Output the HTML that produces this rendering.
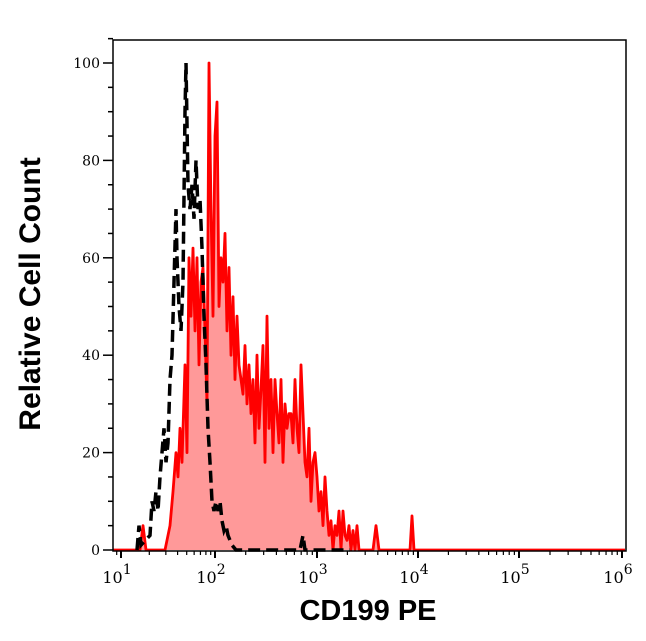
<!DOCTYPE html>
<html><head><style>body{margin:0;background:#fff}svg{display:block}</style></head>
<body>
<svg id="s" width="646" height="641" xmlns="http://www.w3.org/2000/svg" font-family="DejaVu Serif, serif">
<rect width="646" height="641" fill="#fff"/>
<g id="plot"></g>
<rect x="113" y="40" width="513" height="511" fill="none" stroke="#000" stroke-width="1.5"/>
<g id="ax"></g>
<text x="368" y="620" text-anchor="middle" font-family="Liberation Sans, sans-serif" font-weight="bold" font-size="29">CD199 PE</text>
<text transform="translate(40,294) rotate(-90)" text-anchor="middle" font-family="Liberation Sans, sans-serif" font-weight="bold" font-size="30">Relative Cell Count</text>
</svg>
<script>
const Y=v=>550-v*4.87;
const red=[113,0,140,0,143,5,146,0,165,0,170,5,173,12,176,20,178,15,180,25,182,18,185,38,187,20,189,60,191,48,193,62,195,45,197,60,199,38,201,55,203,58,205,45,207,30,209,100,211,70,213,48,215,85,217,92,219,50,221,60,223,55,225,65,227,45,229,58,231,40,233,52,235,35,237,48,239,38,241,35,243,32,245,42,247,30,249,38,251,28,253,35,255,22,257,40,259,25,261,33,263,42,265,18,267,48,269,25,271,35,273,20,275,35,277,28,279,22,281,35,283,18,285,30,287,25,289,28,291,28,293,22,295,35,297,25,299,20,301,38,303,28,305,18,307,15,309,25,311,10,313,18,315,20,317,15,319,8,321,12,323,5,325,15,327,8,329,3,331,6,333,0,335,5,337,3,339,8,341,0,343,8,345,3,347,2,349,5,351,0,353,4,355,0,357,5,359,0,373,0,376,5,379,0,410,0,412,7,414,0,625,0];
const blk=[137,0,139,5,141,1,150,3,152,10,154,8,156,12,158,8,160,15,162,20,164,25,166,18,168,22,170,35,172,40,174,55,176,70,177,60,179,50,181,45,183,55,185,90,186,100,188,75,190,70,192,75,194,68,196,80,198,70,200,72,202,62,204,48,206,38,208,25,210,18,212,10,214,8,216,10,218,8,220,10,222,6,224,4,226,5,228,3,230,2,232,1,236,0,300,0,303,3,305,0,350,0];
const pts=a=>{let s=[];for(let i=0;i<a.length;i+=2)s.push(a[i]+','+Y(a[i+1]).toFixed(1));return s.join(' ')};
let h='';
h+=`<polygon points="113,550 ${pts(red)} 625,550" fill="#ff9999"/>`;
h+=`<polyline points="${pts(red)}" fill="none" stroke="#ff0000" stroke-width="2.8" stroke-linejoin="round"/>`;
h+=`<polyline points="${pts(blk)}" fill="none" stroke="#000" stroke-width="3.5" stroke-dasharray="12,6"/>`;
document.getElementById('plot').innerHTML=h;
let a='';
for(let v=0;v<=105;v+=5){const y=Y(v);const maj=v%20==0;a+=`<line x1="${maj?103:108}" x2="113" y1="${y}" y2="${y}" stroke="#000" stroke-width="1.5"/>`;if(maj)a+=`<text x="100" y="${y+5}" text-anchor="end" font-size="14">${v}</text>`;}
const dec=[121,215,317,418,519,622];
for(let d=0;d<6;d++){const x=dec[d];a+=`<line x1="${x}" x2="${x}" y1="551" y2="558" stroke="#000" stroke-width="2"/>`;
a+=`<text x="${x-4}" y="583" text-anchor="middle" font-size="16">10<tspan dy="-9" font-size="14">${d+1}</tspan></text>`;
if(d<5){const w=dec[d+1]-x;for(let k=2;k<10;k++){const xx=x+Math.log10(k)*w;a+=`<line x1="${xx}" x2="${xx}" y1="551" y2="555" stroke="#000" stroke-width="1.2"/>`;}}}
for(let k=8;k<10;k++){const xx=121-(1-Math.log10(k))*94;if(xx>113)a+=`<line x1="${xx}" x2="${xx}" y1="551" y2="555" stroke="#000" stroke-width="1.2"/>`;}
document.getElementById('ax').innerHTML=a;
</script>
</body></html>
